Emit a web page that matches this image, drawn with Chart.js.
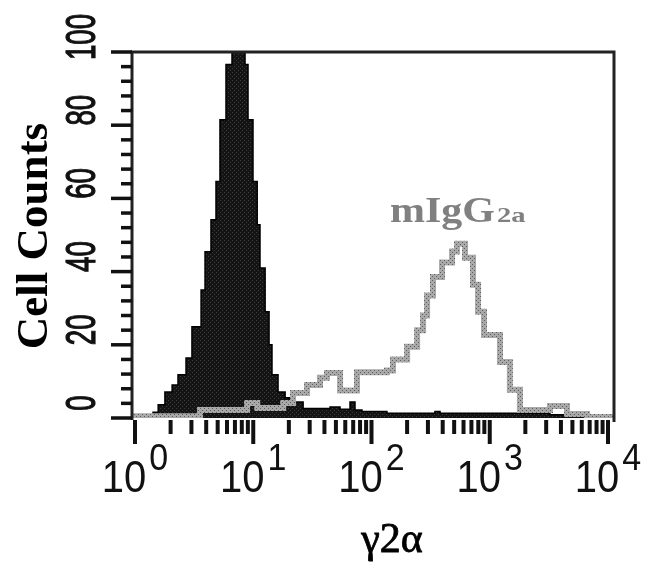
<!DOCTYPE html>
<html lang="en">
<head>
<meta charset="UTF-8">
<title>Cell Counts vs γ2α</title>
<script src="https://cdn.jsdelivr.net/npm/chart.js"></script>
<style>
  body { margin: 0; background: #fff; }
  canvas { display: block; }
</style>
</head>
<body>
<canvas id="histChart" width="649" height="566"></canvas>
<script>
// Step histograms: left edge of each step (fluorescence) and its count
const controlX = [0.943, 1.42, 1.57, 1.79, 2.06, 2.31, 2.70, 3.03, 3.62, 3.91, 4.39, 4.84, 5.23, 5.88, 6.61,
                  8.52, 9.03, 9.95, 10.8, 11.4, 12.6, 13.6, 14.4, 16.2, 18.6, 20.5, 22.1, 26.4, 44.6, 54.2,
                  65.8, 72.5, 83.1, 135, 344, 380, 3230, 7040, 11240];
const controlCounts = [0, 1.6, 3.6, 7.1, 9, 11.8, 16.4, 24.9, 35, 45.4, 54.2, 64.6, 81.5, 96.6, 100,
                       96.6, 81.5, 64.6, 52.8, 41, 29, 20, 11.8, 7.1, 5.5, 3.6, 4.4, 2.6, 3, 2.4,
                       4.4, 2.2, 1.8, 1.3, 1.8, 1.3, 0.9, 0.5, 0.5];

const mIgG2aX = [0.943, 3.55, 8.86, 10.8, 17.9, 21.7, 28.5, 36.7, 42.0, 54.2, 75.4, 135, 152, 200, 243, 273,
                 295, 331, 395, 480, 529, 618, 722, 796, 894, 1220, 1480, 1800, 3230, 4500, 6650, 11240];
const mIgG2aCounts = [0.5, 2.2, 4.1, 2.7, 4.1, 6.8, 9, 11, 12.3, 7.5, 12.5, 13, 16, 19.5, 24, 28,
                      33.5, 38.5, 42.5, 45.5, 47.6, 43.8, 36.4, 29, 22.7, 15.3, 7.7, 2.2, 3.3, 1.1, 0.3, 0.3];

// Axes
const xTickValues = [1, 10, 100, 1000, 10000];
const xTickPowers = ['0', '1', '2', '3', '4'];
const xMinorMultipliers = [2, 3, 4, 5, 6, 7, 8, 9];
const yTickValues = [0, 20, 40, 60, 80, 100];
const yMinorStep = 4;

function toPoints(xs, ys) {
    return xs.map((x, i) => ({ x: x, y: ys[i] }));
}

// small halftone patterns to mimic the scanned print
function halftone(base, dot) {
    const c = document.createElement('canvas');
    c.width = 4; c.height = 4;
    const g = c.getContext('2d');
    g.fillStyle = base;
    g.fillRect(0, 0, 4, 4);
    g.fillStyle = dot;
    g.fillRect(0, 0, 1, 1);
    g.fillRect(2, 2, 1, 1);
    return g.createPattern(c, 'repeat');
}

function drawText(ctx, text, x, y, font, color, opts) {
    opts = opts || {};
    ctx.save();
    ctx.translate(x, y);
    if (opts.rotate) ctx.rotate(opts.rotate);
    ctx.scale(opts.sx || 1, opts.sy || 1);
    ctx.font = font;
    ctx.fillStyle = color;
    ctx.textAlign = opts.align || 'left';
    ctx.textBaseline = 'alphabetic';
    ctx.fillText(text, 0, 0);
    if (opts.stroke) {
        ctx.strokeStyle = color;
        ctx.lineWidth = opts.stroke;
        ctx.strokeText(text, 0, 0);
    }
    ctx.restore();
}

// Frame, tick marks and labels, all placed with the chart's own scales
const axesPlugin = {
    id: 'facsAxes',
    afterDatasetsDraw(chart) {
        const ctx = chart.ctx;
        const area = chart.chartArea;
        const xs = chart.scales.x;
        const ys = chart.scales.y;

        ctx.save();
        ctx.lineCap = 'butt';

        // frame: top, left and right (no bottom line)
        ctx.strokeStyle = '#222';
        ctx.lineWidth = 3;
        ctx.beginPath();
        ctx.moveTo(area.left, area.bottom + 2);
        ctx.lineTo(area.left, area.top);
        ctx.lineTo(area.right, area.top);
        ctx.lineTo(area.right, area.bottom + 4);
        ctx.stroke();

        // y ticks
        ctx.strokeStyle = '#111';
        ctx.lineWidth = 3.5;
        for (let v = yTickValues[0]; v <= yTickValues[yTickValues.length - 1]; v += yMinorStep) {
            const py = ys.getPixelForValue(v);
            const len = yTickValues.includes(v) ? 21 : 11;
            ctx.beginPath();
            ctx.moveTo(area.left, py);
            ctx.lineTo(area.left - len, py);
            ctx.stroke();
        }

        // x ticks
        ctx.lineWidth = 4;
        xTickValues.forEach((v, i) => {
            const px = xs.getPixelForValue(v);
            ctx.beginPath();
            ctx.moveTo(px, area.bottom + 2);
            ctx.lineTo(px, area.bottom + 26);
            ctx.stroke();
            if (i < xTickValues.length - 1) {
                xMinorMultipliers.forEach(m => {
                    const mx = xs.getPixelForValue(v * m);
                    ctx.beginPath();
                    ctx.moveTo(mx, area.bottom + 2);
                    ctx.lineTo(mx, area.bottom + 16);
                    ctx.stroke();
                });
            }
        });
        ctx.restore();

        // x tick labels: 10 with superscript power
        const baseFont = '40px "Liberation Sans", Arial, sans-serif';
        const supFont = '34px "Liberation Sans", Arial, sans-serif';
        xTickValues.forEach((v, i) => {
            const px = xs.getPixelForValue(v);
            ctx.font = baseFont;
            const w1 = ctx.measureText('10').width;
            ctx.font = supFont;
            const w2 = ctx.measureText(xTickPowers[i]).width;
            const start = px - (w1 + 3 + w2) / 2;
            drawText(ctx, '10', start, area.bottom + 74, baseFont, '#111', { sy: 1.1 });
            drawText(ctx, xTickPowers[i], start + w1 + 3, area.bottom + 52, supFont, '#111', { sy: 1.1 });
        });

        // y tick labels, rotated and condensed
        yTickValues.forEach(v => {
            const py = ys.getPixelForValue(v) - 15;
            drawText(ctx, String(v), area.left - 37, py, '42px "Liberation Sans", Arial, sans-serif', '#111',
                { rotate: -Math.PI / 2, sx: 0.66, align: 'center', stroke: 1.2 });
        });

        // axis titles
        drawText(ctx, 'Cell Counts', 47, 236, 'bold 45px "Liberation Serif", "Times New Roman", serif', '#000',
            { rotate: -Math.PI / 2, align: 'center' });
        drawText(ctx, 'γ2α', 392, 552, '42px "Liberation Serif", "Times New Roman", serif', '#000',
            { align: 'center', stroke: 0.8 });

        // series label
        drawText(ctx, 'mIgG', 390, 222, 'bold 35px "Liberation Serif", "Times New Roman", serif', '#808080',
            { sx: 1.2 });
        drawText(ctx, '2a', 497, 222, 'bold 22px "Liberation Serif", "Times New Roman", serif', '#808080',
            { sx: 1.3 });
    }
};

const ctx = document.getElementById('histChart').getContext('2d');

new Chart(ctx, {
    type: 'line',
    data: {
        datasets: [
            {
                label: 'mIgG2a',
                data: toPoints(mIgG2aX, mIgG2aCounts),
                stepped: true,
                borderColor: halftone('#a9a9a9', '#5e5e5e'),
                borderWidth: 6,
                borderJoinStyle: 'miter',
                pointRadius: 0,
                fill: false,
                order: 0
            },
            {
                label: 'control',
                data: toPoints(controlX, controlCounts),
                stepped: true,
                borderColor: '#000',
                borderWidth: 1.5,
                backgroundColor: halftone('#141414', '#3c3c3c'),
                pointRadius: 0,
                fill: 'origin',
                order: 1
            }
        ]
    },
    options: {
        responsive: false,
        animation: false,
        layout: { padding: { left: 132, top: 52, right: 35, bottom: 148 } },
        scales: {
            x: { type: 'logarithmic', min: 0.943, max: 11240, display: false },
            y: { type: 'linear', min: 0, max: 100, display: false }
        },
        plugins: {
            legend: { display: false },
            tooltip: { enabled: false }
        }
    },
    plugins: [axesPlugin]
});
</script>
</body>
</html>
